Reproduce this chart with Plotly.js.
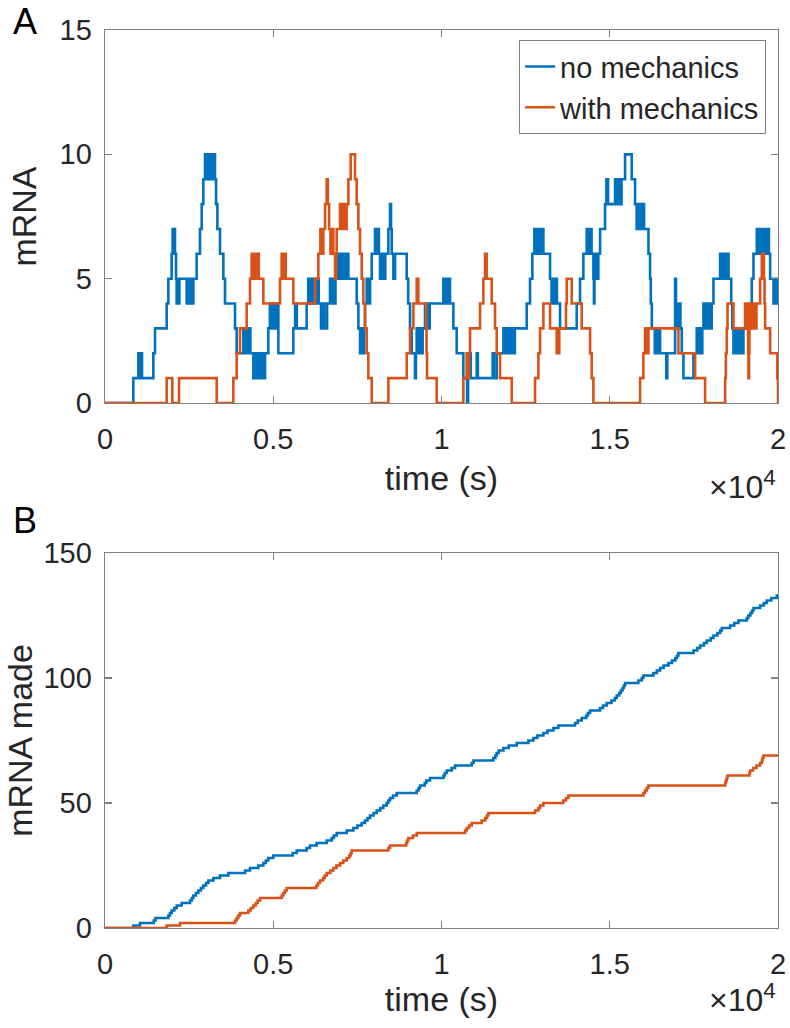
<!DOCTYPE html>
<html>
<head>
<meta charset="utf-8">
<script src="https://cdn.plot.ly/plotly-3.0.1.min.js"></script>
<style>html,body{margin:0;padding:0;background:#fff;}#chart{width:790px;height:1028px;}</style>
</head>
<body>
<div id="chart"></div>
<script>
// ---- Panel A: mRNA count over time (step traces) ----
const noMechTimeA = [0,842,991,1040,1070,1100,1436,1486,1833,1883,1981,2010,2040,2060,2080,2110,2130,2150,2180,2210,2427,2460,2500,2540,2580,2625,2724,2823,2873,2922,2972,3020,3060,3100,3140,3200,3240,3269,3300,3340,3418,3517,3566,3864,3913,4111,4150,4190,4230,4270,4320,4409,4450,4500,4550,4600,4650,4700,4755,4854,4900,4950,5000,5050,5102,5152,5597,5650,5700,5993,6040,6092,6150,6200,6290,6350,6420,6470,6520,6600,6687,6720,6760,6800,6850,6885,6930,6980,7030,7080,7130,7180,7232,7480,7530,7579,7610,7650,7700,7727,7777,7820,7876,7926,8025,8060,8100,8140,8173,8220,8260,8300,8330,8421,8470,8500,8520,8570,8620,8966,9010,9064,9114,9213,9240,9263,9290,9330,9380,9440,9510,9609,9650,10055,10090,10130,10170,10210,10253,10353,10452,10650,10760,10790,10830,10870,11046,11080,11520,11560,11641,11839,11900,11950,12000,12060,12120,12180,12532,12631,12700,12760,12800,12850,12900,12960,13028,13226,13270,13300,13325,13380,13430,13523,14018,14117,14216,14315,14360,14410,14460,14514,14530,14545,14563,14620,14660,14712,14860,14900,14950,15158,15200,15250,15300,15350,15455,15653,15752,15800,15850,15900,15960,16020,16150,16198,16220,16250,16340,16380,16420,16460,16496,16680,16710,16942,16970,17000,17040,17100,17140,17190,17487,17586,17620,17660,17700,17750,17784,17840,17900,17960,18030,18082,18280,18330,18380,18430,18480,18530,18610,18640,18676,18720,18760,18800,18850,18900,18930,18973,19172,19220,19271,19370,19420,19470,19520,19580,19640,19700,19730,19766,19865,19900,19940,19970,20000];
const noMechCountA = [0,1,2,1,2,1,2,3,4,5,6,7,6,7,6,5,4,5,4,5,4,5,4,5,4,5,6,7,8,9,10,9,10,9,10,9,10,9,8,7,6,5,4,3,2,3,2,3,2,3,2,1,2,1,2,1,2,1,2,3,4,3,4,3,4,2,3,4,3,4,5,4,5,4,5,4,3,4,3,4,5,4,5,4,5,6,5,6,5,6,5,6,5,4,3,2,3,2,3,4,5,4,5,6,7,6,7,6,5,6,5,5,6,7,8,7,6,5,6,5,4,3,2,1,2,3,2,3,2,3,4,3,4,5,4,5,4,5,4,3,2,1,0,1,2,1,2,1,2,1,2,3,2,3,2,3,2,3,4,5,6,7,6,7,6,7,6,5,4,5,4,5,4,3,4,5,6,7,6,7,6,5,4,5,6,5,6,7,8,9,8,9,8,9,8,9,10,9,8,7,8,7,8,7,6,5,4,3,2,3,2,3,2,1,2,5,4,3,4,3,2,1,2,3,2,3,2,3,4,3,4,3,4,5,6,5,6,5,6,5,4,3,2,3,2,3,2,3,2,3,4,5,6,7,6,7,6,7,6,7,6,5,4,5,4,5,4];

const withMechTimeA = [0,1833,2000,2200,3319,3814,3913,4012,4210,4309,4359,4400,4440,4490,4530,4570,4706,5201,5250,5290,5330,5370,5597,6241,6340,6400,6439,6489,6540,6588,6620,6660,6700,6740,6786,6836,6870,6885,6984,7030,7083,7130,7180,7232,7301,7430,7480,7530,7579,7629,7678,7727,7777,7826,7926,8421,8966,9064,9164,9263,9312,9540,9555,9570,9857,10650,10749,10790,10820,10848,11145,11244,11294,11343,11492,11591,11641,11740,12087,12780,12879,12929,13028,13226,13424,13500,13700,13721,13870,14167,14415,14464,14514,15901,16000,16049,16100,16150,17041,17537,17834,18429,18450,18478,18500,18676,19023,19100,19110,19122,19140,19150,19172,19220,19260,19300,19360,19469,19519,19580,19600,19618,19766,19980,20000];
const withMechCountA = [0,1,0,1,0,1,2,3,4,5,6,5,6,5,6,5,4,5,6,5,6,5,4,5,6,7,6,7,8,9,8,7,6,7,6,5,6,7,8,7,8,7,8,9,10,9,8,7,6,5,4,3,2,1,0,1,2,3,4,5,4,3,2,1,0,1,2,1,2,3,4,5,6,5,4,3,2,1,0,1,2,3,4,3,2,3,4,5,4,3,2,1,0,1,2,3,2,3,2,1,0,1,2,3,4,3,4,3,2,1,2,3,4,3,4,3,4,5,6,5,4,3,2,1,0];

// ---- Panel B: cumulative mRNA made ----
const noMechTimeB = [0,842,1040,1450,1500,1883,1930,1981,2060,2130,2278,2526,2580,2625,2700,2774,2850,2922,3000,3071,3220,3418,3666,4161,4309,4557,4706,4780,4854,5003,5577,5696,5993,6092,6290,6588,6737,6800,6885,7182,7380,7500,7628,7727,7800,7876,7980,8074,8180,8272,8370,8420,8470,8560,8669,9263,9320,9362,9500,9550,9659,10060,10100,10154,10300,10402,10897,10950,11541,11600,11641,11700,11839,12000,12235,12582,12731,12850,13028,13150,13325,13473,13969,14050,14167,14300,14350,14415,14712,14800,14910,15050,15150,15207,15280,15330,15380,15420,15455,15851,15950,16000,16297,16400,16496,16600,16744,16850,16950,17000,17041,17487,17600,17685,17800,17883,18000,18082,18200,18280,18330,18577,18700,18825,19073,19120,19180,19230,19271,19469,19580,19667,19800,19964,20000];
const noMechMadeB = [0,1,2,3,4,5,6,7,8,9,10,11,12,13,14,15,16,17,18,19,20,21,22,23,24,25,26,27,28,29,30,31,32,33,34,35,36,37,38,39,40,41,42,43,44,45,46,47,48,49,50,51,52,53,54,55,56,57,58,59,60,61,62,63,64,65,66,67,68,69,70,71,72,73,74,75,76,77,78,79,80,81,82,83,84,85,86,87,88,89,90,91,92,93,94,95,96,97,98,99,100,101,102,103,104,105,106,107,108,109,110,111,112,113,114,115,116,117,118,119,120,121,122,123,124,125,126,127,128,129,130,131,132,133,133];

const withMechTimeB = [0,1833,2229,3864,3913,3960,4012,4260,4330,4409,4480,4540,4607,5250,5300,5350,5399,6280,6330,6389,6480,6530,6588,6700,6786,6880,6984,7080,7182,7260,7300,7331,8420,8470,8950,8980,9015,9150,9263,10700,10749,10820,10897,11195,11300,11350,11393,12780,12880,12929,13028,13620,13700,13771,16000,16049,16100,16149,18429,18450,18478,18500,19150,19172,19260,19360,19469,19519,19540,19568,20000];
const withMechMadeB = [0,1,2,3,4,5,6,7,8,9,10,11,12,13,14,15,16,17,18,19,20,21,22,23,24,25,26,27,28,29,30,31,32,33,34,35,36,37,38,39,40,41,42,43,44,45,46,47,48,49,50,51,52,53,54,55,56,57,58,59,60,61,62,63,64,65,66,67,68,69,69];

const xTickVals = [0, 5000, 10000, 15000, 20000];
const xTickText = ['0', '0.5', '1', '1.5', '2'];
const seriesNames = ['no mechanics', 'with mechanics'];

const BLUE = '#0072BD', ORANGE = '#D95319';
const TXT = '#262626', AXC = '#808080';
const FONT = 'Liberation Sans, Arial, Helvetica, sans-serif';

function stepTrace(x, y, color, name, xa, ya, show) {
  return {x: x, y: y, type: 'scatter', mode: 'lines', name: name,
    line: {color: color, width: 2.6, shape: 'hv'}, xaxis: xa, yaxis: ya,
    showlegend: show, hoverinfo: 'skip'};
}

const data = [
  stepTrace(noMechTimeA, noMechCountA, BLUE, seriesNames[0], 'x', 'y', true),
  stepTrace(withMechTimeA, withMechCountA, ORANGE, seriesNames[1], 'x', 'y', true),
  stepTrace(noMechTimeB, noMechMadeB, BLUE, seriesNames[0], 'x2', 'y2', false),
  stepTrace(withMechTimeB, withMechMadeB, ORANGE, seriesNames[1], 'x2', 'y2', false)
];

const tickFont = {family: FONT, size: 29, color: TXT};
const titleFont = {family: FONT, size: 34, color: TXT};

function xAxis(anchor, standoff) {
  return {anchor: anchor, range: [0, 20000], tickvals: xTickVals, ticktext: xTickText,
    ticks: 'inside', ticklen: 7, tickcolor: AXC, tickwidth: 1.2,
    showline: true, linecolor: AXC, linewidth: 1.4, mirror: 'ticks',
    showgrid: false, zeroline: false, tickfont: tickFont, ticklabelstandoff: 10,
    title: {text: 'time (s)', font: titleFont, standoff: standoff}};
}
function yAxis(anchor, domain, range, tv, title, standoff) {
  return {anchor: anchor, domain: domain, range: range, tickvals: tv,
    ticks: 'inside', ticklen: 7, tickcolor: AXC, tickwidth: 1.2,
    showline: true, linecolor: AXC, linewidth: 1.4, mirror: 'ticks',
    showgrid: false, zeroline: false, tickfont: tickFont, ticklabelstandoff: 6,
    title: {text: title, font: titleFont, standoff: standoff}};
}

const layout = {
  width: 790, height: 1028,
  margin: {l: 105, r: 12, t: 30, b: 100},
  paper_bgcolor: '#ffffff', plot_bgcolor: '#ffffff',
  font: {family: FONT, color: TXT},
  xaxis: xAxis('y', 12),
  yaxis: yAxis('x', [0.5846, 1], [0, 15], [0, 5, 10, 15], 'mRNA', 12),
  xaxis2: xAxis('y2', 6),
  yaxis2: yAxis('x2', [0, 0.4176], [0, 150], [0, 50, 100, 150], 'mRNA made', 0),
  showlegend: true,
  legend: {x: 0.982, y: 0.9889, xanchor: 'right', yanchor: 'top',
    bgcolor: '#ffffff', bordercolor: AXC, borderwidth: 1.2,
    font: {family: FONT, size: 29, color: TXT}, tracegroupgap: 0},
  annotations: [
    {text: 'A', xref: 'paper', yref: 'paper', x: -0.119, y: 1.009, showarrow: false,
     font: {family: FONT, size: 36, color: '#000'}, xanchor: 'center', yanchor: 'middle'},
    {text: 'B', xref: 'paper', yref: 'paper', x: -0.119, y: 0.4543, showarrow: false,
     font: {family: FONT, size: 36, color: '#000'}, xanchor: 'center', yanchor: 'middle'},
    {text: '\u00d710<sup>4</sup>', xref: 'paper', yref: 'paper', x: 1.0, y: 0.493, showarrow: false,
     font: {family: FONT, size: 32, color: TXT}, xanchor: 'right', yanchor: 'middle'},
    {text: '\u00d710<sup>4</sup>', xref: 'paper', yref: 'paper', x: 1.0, y: -0.078, showarrow: false,
     font: {family: FONT, size: 32, color: TXT}, xanchor: 'right', yanchor: 'middle'}
  ]
};

Plotly.newPlot('chart', data, layout, {staticPlot: true, displayModeBar: false});
</script>
</body>
</html>
